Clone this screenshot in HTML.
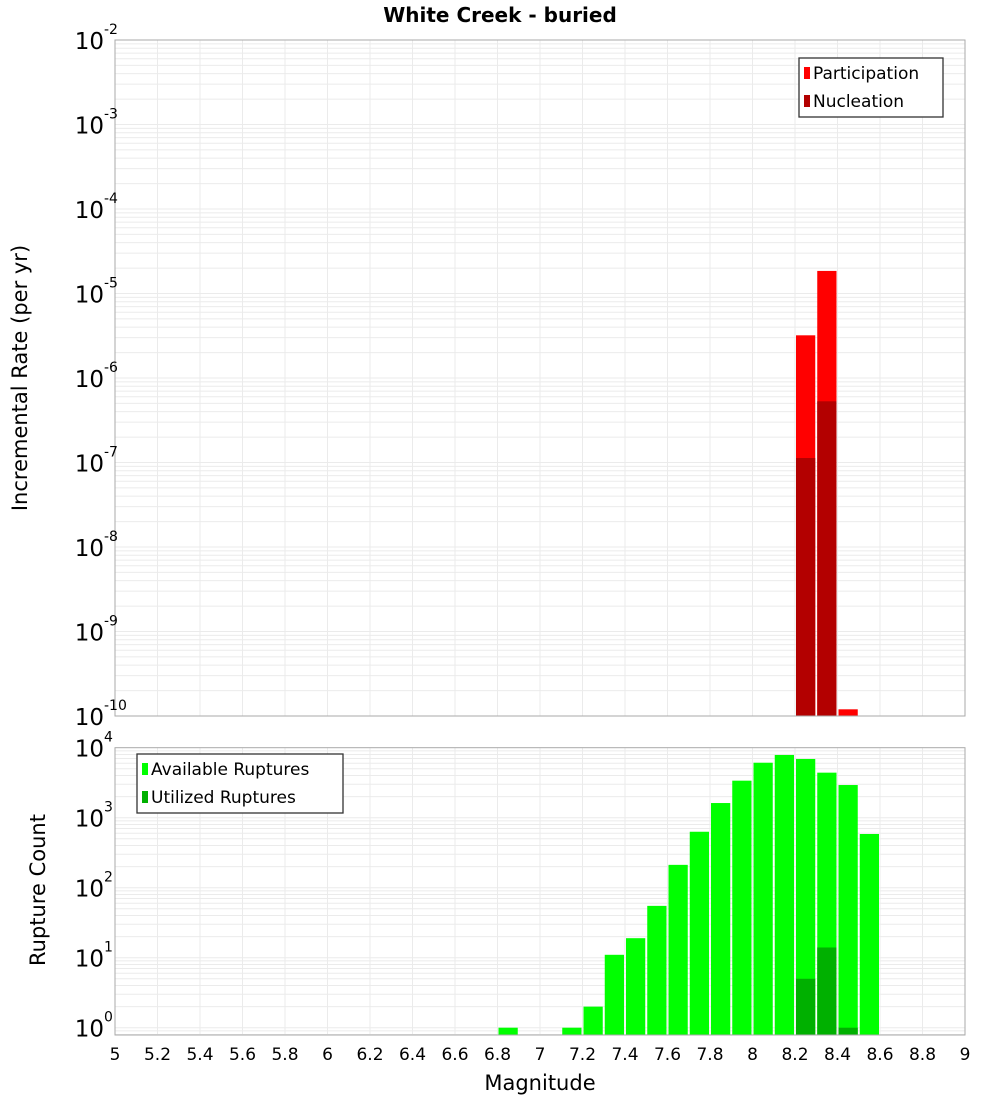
<!DOCTYPE html>
<html><head><meta charset="utf-8"><style>
html,body{margin:0;padding:0;background:#fff;}
svg{display:block;font-family:"DejaVu Sans","Liberation Sans",sans-serif;}
</style></head><body>
<svg id="c" width="1000" height="1100" xmlns="http://www.w3.org/2000/svg">
<text x="500" y="22" text-anchor="middle" font-size="20" font-weight="bold">White Creek - buried</text>
<g id="topG"></g>
<g id="botG"></g>
<text transform="translate(27,378) rotate(-90)" text-anchor="middle" font-size="21">Incremental Rate (per yr)</text>
<text transform="translate(45,890) rotate(-90)" text-anchor="middle" font-size="21">Rupture Count</text>
<text x="540" y="1090" text-anchor="middle" font-size="21">Magnitude</text>
</svg>
<script>
const partMags=[8.25,8.35,8.45];
const partVals=[3.2e-6,1.85e-5,1.2e-10];
const nuclMags=[8.25,8.35];
const nuclVals=[1.13e-7,5.3e-7];
const availMags=[6.85,7.15,7.25,7.35,7.45,7.55,7.65,7.75,7.85,7.95,8.05,8.15,8.25,8.35,8.45,8.55];
const availVals=[1,1,2,11,19,55,212,630,1620,3380,6100,7870,6900,4400,2930,585];
const utilMags=[8.25,8.35,8.45];
const utilVals=[5,14,1];
const xTicks=[5,5.2,5.4,5.6,5.8,6,6.2,6.4,6.6,6.8,7,7.2,7.4,7.6,7.8,8,8.2,8.4,8.6,8.8,9];
const topExps=[-10,-9,-8,-7,-6,-5,-4,-3,-2];
const botExps=[0,1,2,3,4];

const NS="http://www.w3.org/2000/svg";
const L=115,R=965;
const xs=m=>L+(m-5)*(R-L)/4;
const T1=40,B1=716;
const y1=v=>B1-(Math.log10(v)+10)*(B1-T1)/8;
const T2=747.7,B2=1035,D2=70;
const y2=v=>1027.7-Math.log10(v)*D2;
function mk(p,tag,a){const e=document.createElementNS(NS,tag);for(const k in a)e.setAttribute(k,a[k]);p.appendChild(e);return e;}
const topG=document.getElementById('topG'),botG=document.getElementById('botG');

function grid(g,T,B,exps,yf){
  for(const e of exps){for(let k=1;k<10;k++){const v=k*Math.pow(10,e);const y=yf(v);if(y<T-0.5||y>B+0.5)continue;
    const ln=mk(g,'line',{x1:L,x2:R,y1:y,y2:y,stroke:'#ebebeb','stroke-width':1});
    
    }}
  for(const t of xTicks){const x=xs(t);
    const ln=mk(g,'line',{x1:x,x2:x,y1:T,y2:B,stroke:'#ebebeb','stroke-width':1});
    
    }
}
function bars(g,mags,vals,yf,B,color,name){
  mags.forEach((m,i)=>{const x0=xs(m-0.05)+1,x1=xs(m+0.05)-1;const y=yf(vals[i]);
    const r=mk(g,'rect',{x:x0,y:y,width:x1-x0,height:B-y,fill:color});
    
    });
}
function ylab(g,exps,yf){
  for(const e of exps){const y=yf(Math.pow(10,e));
    const t=mk(g,'text',{x:104,y:y+9,'text-anchor':'end','font-size':23});
    
    
    t.textContent='10';
    const s=mk(g,'text',{x:104,y:y-6,'font-size':14});
    
    
    s.textContent=String(e);}
}
mk(topG,'rect',{x:L,y:T1,width:R-L,height:B1-T1,fill:'#fff'});
grid(topG,T1,B1,topExps,y1);
bars(topG,partMags,partVals,y1,B1,'#ff0000','participation-bar');
bars(topG,nuclMags,nuclVals,y1,B1,'#b30000','nucleation-bar');
mk(topG,'rect',{x:L,y:T1,width:R-L,height:B1-T1,fill:'none',stroke:'#aaa'});
ylab(topG,topExps,y1);
mk(botG,'rect',{x:L,y:T2,width:R-L,height:B2-T2,fill:'#fff'});
grid(botG,T2,B2,[-1,0,1,2,3],y2);
bars(botG,availMags,availVals,y2,B2,'#00ff00','available-bar');
bars(botG,utilMags,utilVals,y2,B2,'#00b000','utilized-bar');
mk(botG,'rect',{x:L,y:T2,width:R-L,height:B2-T2,fill:'none',stroke:'#aaa'});
ylab(botG,botExps,y2);
for(const t of xTicks){const tx=mk(botG,'text',{x:xs(t),y:1060,'text-anchor':'middle','font-size':17});
  
  
  tx.textContent=String(t);}
function legend(g,x,y,w,h,items,name){
  const lg=mk(g,'g',{});
  
  
  mk(lg,'rect',{x:x,y:y,width:w,height:h,fill:'#fff',stroke:'#333','stroke-width':1.3});
  items.forEach((it,i)=>{const yy=y+15+i*28;
    mk(lg,'rect',{x:x+5,y:yy-6,width:6,height:12,fill:it[1]});
    const t=mk(lg,'text',{x:x+14,y:yy+6,'font-size':17});
    
    
    t.textContent=it[0];});
}
legend(topG,799,58,144,59,[['Participation','#ff0000'],['Nucleation','#b30000']],'legend-top');
legend(botG,137,754,206,59,[['Available Ruptures','#00ff00'],['Utilized Ruptures','#00b000']],'legend-bottom');
</script>
</body></html>
